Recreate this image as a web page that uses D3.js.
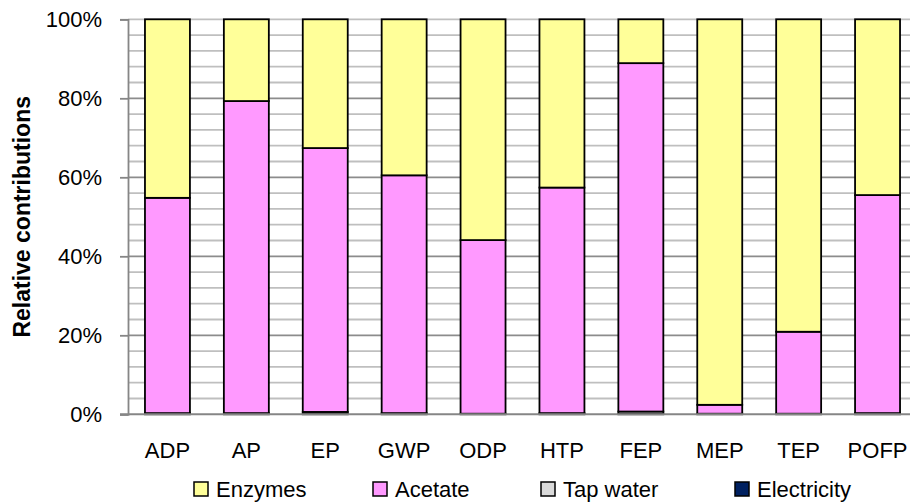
<!DOCTYPE html>
<html>
<head>
<meta charset="utf-8">
<script src="https://cdn.jsdelivr.net/npm/d3@7"></script>
<style>
  html, body { margin: 0; padding: 0; background: #fff; }
  svg { display: block; }
  text { font-family: "Liberation Sans", Arial, sans-serif; fill: #000; }
</style>
</head>
<body>
<svg id="chart" width="910" height="504"></svg>
<script>
// ---- data (percent of total) ----
const categories = ["ADP", "AP", "EP", "GWP", "ODP", "HTP", "FEP", "MEP", "TEP", "POFP"];
const electricity = [0.1, 0.1, 0.1, 0.1, 0.05, 0.1, 0.1, 0.05, 0.05, 0.1];
const tapWater    = [0.2, 0.2, 0.5, 0.2, 0.1, 0.2, 0.6, 0.1, 0.1, 0.2];
const acetate     = [54.5, 79.0, 66.8, 60.2, 43.95, 57.1, 88.2, 2.25, 20.75, 55.2];
const enzymes     = [45.2, 20.7, 32.6, 39.5, 55.9, 42.6, 11.1, 97.6, 79.1, 44.5];
const seriesNames = ["Enzymes", "Acetate", "Tap water", "Electricity"];
const seriesColors = ["#FFFF99", "#FF99FF", "#D9D9D9", "#002060"];
const yTicks = [0, 20, 40, 60, 80, 100];
const yMinorTicks = d3.range(0, 101, 4);

// stack order bottom -> top
const stackKeys = ["Electricity", "Tap water", "Acetate", "Enzymes"];
const table = categories.map((c, i) => ({
  cat: c,
  "Electricity": electricity[i],
  "Tap water": tapWater[i],
  "Acetate": acetate[i],
  "Enzymes": enzymes[i]
}));
const colorOf = d3.scaleOrdinal().domain(seriesNames).range(seriesColors);

const svg = d3.select("#chart");
const pLeft = 128, pRight = 917, pTop = 19.3, pBottom = 414.3;

const x = d3.scaleBand().domain(categories).range([pLeft, pRight])
  .paddingInner(0.43).paddingOuter(0.215);
const y = d3.scaleLinear().domain([0, 100]).range([pBottom, pTop]);

// gridlines
const grid = svg.append("g");
grid.selectAll("line.minor").data(yMinorTicks.filter(v => v % 20 !== 0 || v === 100)).enter()
  .append("line")
  .attr("x1", pLeft).attr("x2", 910)
  .attr("y1", d => y(d)).attr("y2", d => y(d))
  .attr("stroke", "#bfbfbf").attr("stroke-width", 1.8);
grid.selectAll("line.major").data(yTicks.filter(v => v > 0 && v < 100)).enter()
  .append("line")
  .attr("x1", pLeft).attr("x2", 910)
  .attr("y1", d => y(d)).attr("y2", d => y(d))
  .attr("stroke", "#8c8c8c").attr("stroke-width", 1.8);

// y axis
const yAxis = d3.axisLeft(y).tickValues(yTicks).tickSize(8).tickPadding(18)
  .tickFormat(d => d + "%");
const yg = svg.append("g").attr("transform", `translate(${pLeft},0)`).call(yAxis);
yg.select(".domain").attr("stroke", "#868686").attr("stroke-width", 1.8);
yg.selectAll(".tick line").attr("stroke", "#868686").attr("stroke-width", 1.8);
yg.selectAll(".tick text").attr("font-size", 22).attr("font-family", "Liberation Sans, Arial, sans-serif").attr("fill", "#000");

// bars
const stacked = d3.stack().keys(stackKeys)(table);
const layers = svg.append("g").selectAll("g").data(stacked).enter().append("g")
  .attr("fill", d => colorOf(d.key));
layers.selectAll("rect").data(d => d).enter().append("rect")
  .attr("x", d => x(d.data.cat))
  .attr("width", x.bandwidth())
  .attr("y", d => y(d[1]))
  .attr("height", d => y(d[0]) - y(d[1]))
  .attr("stroke", "#000").attr("stroke-width", 1.8);

// bottom axis line
svg.append("line").attr("x1", 120).attr("x2", 910)
  .attr("y1", pBottom).attr("y2", pBottom)
  .attr("stroke", "#868686").attr("stroke-width", 2);

// category labels
const xAxis = d3.axisBottom(x).tickSize(0).tickPadding(28);
const xg = svg.append("g").attr("transform", `translate(0,${pBottom})`).call(xAxis);
xg.select(".domain").remove();
xg.selectAll(".tick text").attr("font-size", 22).attr("font-family", "Liberation Sans, Arial, sans-serif").attr("fill", "#000");

// y title
svg.append("text")
  .attr("transform", `translate(30,${(pTop + pBottom) / 2}) rotate(-90)`)
  .attr("text-anchor", "middle")
  .attr("font-size", 23).attr("font-weight", "bold")
  .text("Relative contributions");

// legend
const legendX = [194, 373, 541, 735];
const lg = svg.append("g").selectAll("g").data(seriesNames).enter().append("g")
  .attr("transform", (d, i) => `translate(${legendX[i]},482)`);
lg.append("rect").attr("width", 14).attr("height", 14)
  .attr("fill", d => colorOf(d)).attr("stroke", "#000").attr("stroke-width", 1.5);
lg.append("text").attr("x", 22).attr("y", 15).attr("font-size", 22).text(d => d);
</script>
</body>
</html>
